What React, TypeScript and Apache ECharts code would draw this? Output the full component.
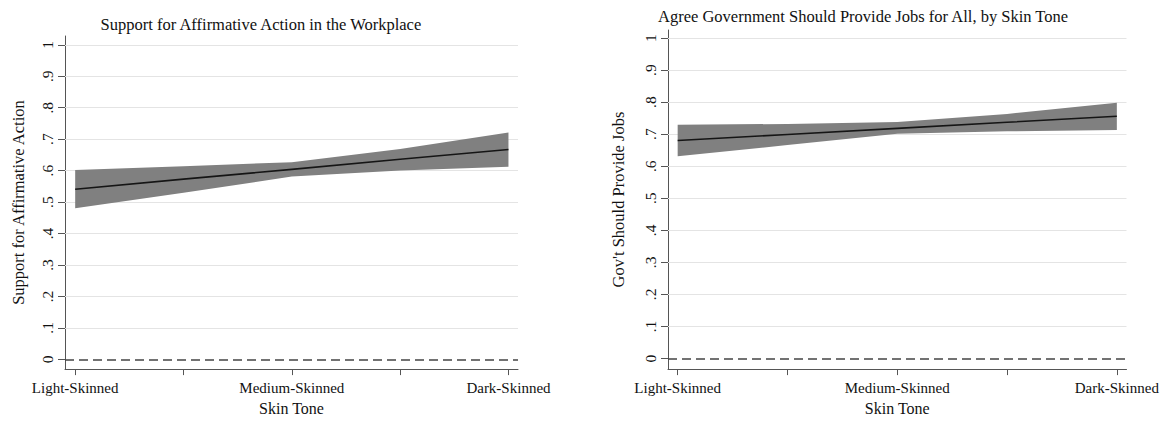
import React, { useEffect, useRef } from 'react';
import * as echarts from 'echarts';

// ---- data ----
const skinTones = ['Light-Skinned', 'Medium-Skinned', 'Dark-Skinned'];
const skinToneCodes = [1, 2, 3];
const xPoints = [1, 1.5, 2, 2.5, 3];
const xTickValues = [1, 1.5, 2, 2.5, 3];
const yTickValues = [0, 0.1, 0.2, 0.3, 0.4, 0.5, 0.6, 0.7, 0.8, 0.9, 1];
const yTickLabels = ['0', '.1', '.2', '.3', '.4', '.5', '.6', '.7', '.8', '.9', '1'];
const gridLineValues = [0.1, 0.2, 0.3, 0.4, 0.5, 0.6, 0.7, 0.8, 0.9, 1];
const refLineValue = 0;

const affirmTitle = 'Support for Affirmative Action in the Workplace';
const affirmYName = 'Support for Affirmative Action';
const affirmFit = [0.541, 0.573, 0.604, 0.636, 0.667];
const affirmUpper = [0.602, 0.614, 0.627, 0.669, 0.721];
const affirmLower = [0.48, 0.53, 0.581, 0.6, 0.612];

const jobsTitle = 'Agree Government Should Provide Jobs for All, by Skin Tone';
const jobsYName = "Gov't Should Provide Jobs";
const jobsFit = [0.68, 0.699, 0.718, 0.737, 0.756];
const jobsUpper = [0.729, 0.732, 0.738, 0.763, 0.798];
const jobsLower = [0.631, 0.666, 0.701, 0.709, 0.713];

const xName = 'Skin Tone';

const FONT = "'Liberation Serif', 'Times New Roman', serif";
const TEXT = '#111111';
const AXIS = '#555555';

function fmtY(v: number) {
  const i = yTickValues.findIndex((t) => Math.abs(t - v) < 1e-6);
  return i >= 0 ? yTickLabels[i] : '';
}
function fmtX(v: number) {
  const i = skinToneCodes.findIndex((t) => Math.abs(t - v) < 1e-6);
  return i >= 0 ? skinTones[i] : '';
}

function panel(
  idx: number,
  fit: number[],
  upper: number[],
  lower: number[],
  xMin: number,
  xMax: number,
  yMin: number,
  yMax: number,
  yNameGap: number,
  xNameGap: number,
  yName: string
) {
  const xAxis = {
    type: 'value',
    gridIndex: idx,
    min: xMin,
    max: xMax,
    name: xName,
    nameLocation: 'middle',
    nameGap: xNameGap,
    nameTextStyle: { fontFamily: FONT, fontSize: 16, color: TEXT },
    axisLine: { show: true, onZero: false, lineStyle: { color: AXIS, width: 1 } },
    axisTick: { show: true, length: 6, customValues: xTickValues, lineStyle: { color: AXIS } },
    axisLabel: {
      customValues: skinToneCodes,
      formatter: fmtX,
      margin: 11,
      fontFamily: FONT,
      fontSize: 15,
      color: TEXT,
    },
    splitLine: { show: false },
  };
  const yAxis = {
    type: 'value',
    gridIndex: idx,
    min: yMin,
    max: yMax,
    name: yName,
    nameLocation: 'middle',
    nameGap: yNameGap,
    nameTextStyle: { fontFamily: FONT, fontSize: 16.5, color: TEXT },
    axisLine: { show: true, onZero: false, lineStyle: { color: AXIS, width: 1 } },
    axisTick: { show: true, length: 7, customValues: yTickValues, lineStyle: { color: AXIS } },
    axisLabel: {
      customValues: yTickValues,
      formatter: fmtY,
      rotate: 90,
      margin: 10,
      fontFamily: FONT,
      fontSize: 15.5,
      color: TEXT,
    },
    splitLine: { show: false },
  };
  const fitData = xPoints.map((x, i) => [x, fit[i]]);
  const series = [
    {
      type: 'line',
      xAxisIndex: idx,
      yAxisIndex: idx,
      data: [],
      symbol: 'none',
      silent: true,
      z: 1,
      markLine: {
        silent: true,
        symbol: 'none',
        z: 1,
        animation: false,
        label: { show: false },
        data: [
          ...gridLineValues.map((v) => ({ yAxis: v, lineStyle: { color: '#e4e4e4', width: 1, type: 'solid' } })),
          { yAxis: refLineValue, lineStyle: { color: '#444444', width: 1.5, type: [9, 5] } },
        ],
      },
    },
    {
      type: 'custom',
      coordinateSystem: 'cartesian2d',
      xAxisIndex: idx,
      yAxisIndex: idx,
      data: [[xPoints[0], lower[0]]],
      silent: true,
      z: 3,
      renderItem: (_params: any, api: any) => {
        const pts: number[][] = [];
        for (let i = 0; i < xPoints.length; i++) pts.push(api.coord([xPoints[i], upper[i]]));
        for (let i = xPoints.length - 1; i >= 0; i--) pts.push(api.coord([xPoints[i], lower[i]]));
        return { type: 'polygon', shape: { points: pts }, style: { fill: '#808080', stroke: 'none' } };
      },
    },
    {
      type: 'line',
      xAxisIndex: idx,
      yAxisIndex: idx,
      data: fitData,
      symbol: 'none',
      lineStyle: { color: '#151515', width: 1.6 },
      silent: true,
      z: 4,
    },
  ];
  return { xAxis, yAxis, series };
}

export default function App() {
  const ref = useRef<HTMLDivElement>(null);
  useEffect(() => {
    if (!ref.current) return;
    const chart = echarts.init(ref.current, null, { renderer: 'svg' });
    const left = panel(0, affirmFit, affirmUpper, affirmLower, 0.953, 3.044, -0.031, 1.028, 38, 28, affirmYName);
    const right = panel(1, jobsFit, jobsUpper, jobsLower, 0.956, 3.044, -0.033, 1.025, 41, 29, jobsYName);
    chart.setOption({
      animation: false,
      backgroundColor: '#ffffff',
      grid: [
        { left: 65, top: 36, width: 453, height: 341.3, containLabel: false },
        { left: 668, top: 30, width: 458.5, height: 345.7, containLabel: false },
      ],
      xAxis: [left.xAxis, right.xAxis],
      yAxis: [left.yAxis, right.yAxis],
      series: [...left.series, ...right.series],
      graphic: [
        {
          type: 'text',
          left: 260.6 - 160,
          top: 16,
          style: { text: affirmTitle, fontFamily: FONT, fontSize: 16.5, fill: TEXT },
        },
        {
          type: 'text',
          left: 866 - 208,
          top: 8,
          style: { text: jobsTitle, fontFamily: FONT, fontSize: 16.5, fill: TEXT },
        },
      ],
    });
    return () => chart.dispose();
  }, []);
  return (
    <div
      ref={ref}
      style={{ position: 'fixed', left: 0, top: 0, width: 1162, height: 421, background: '#fff' }}
    />
  );
}
